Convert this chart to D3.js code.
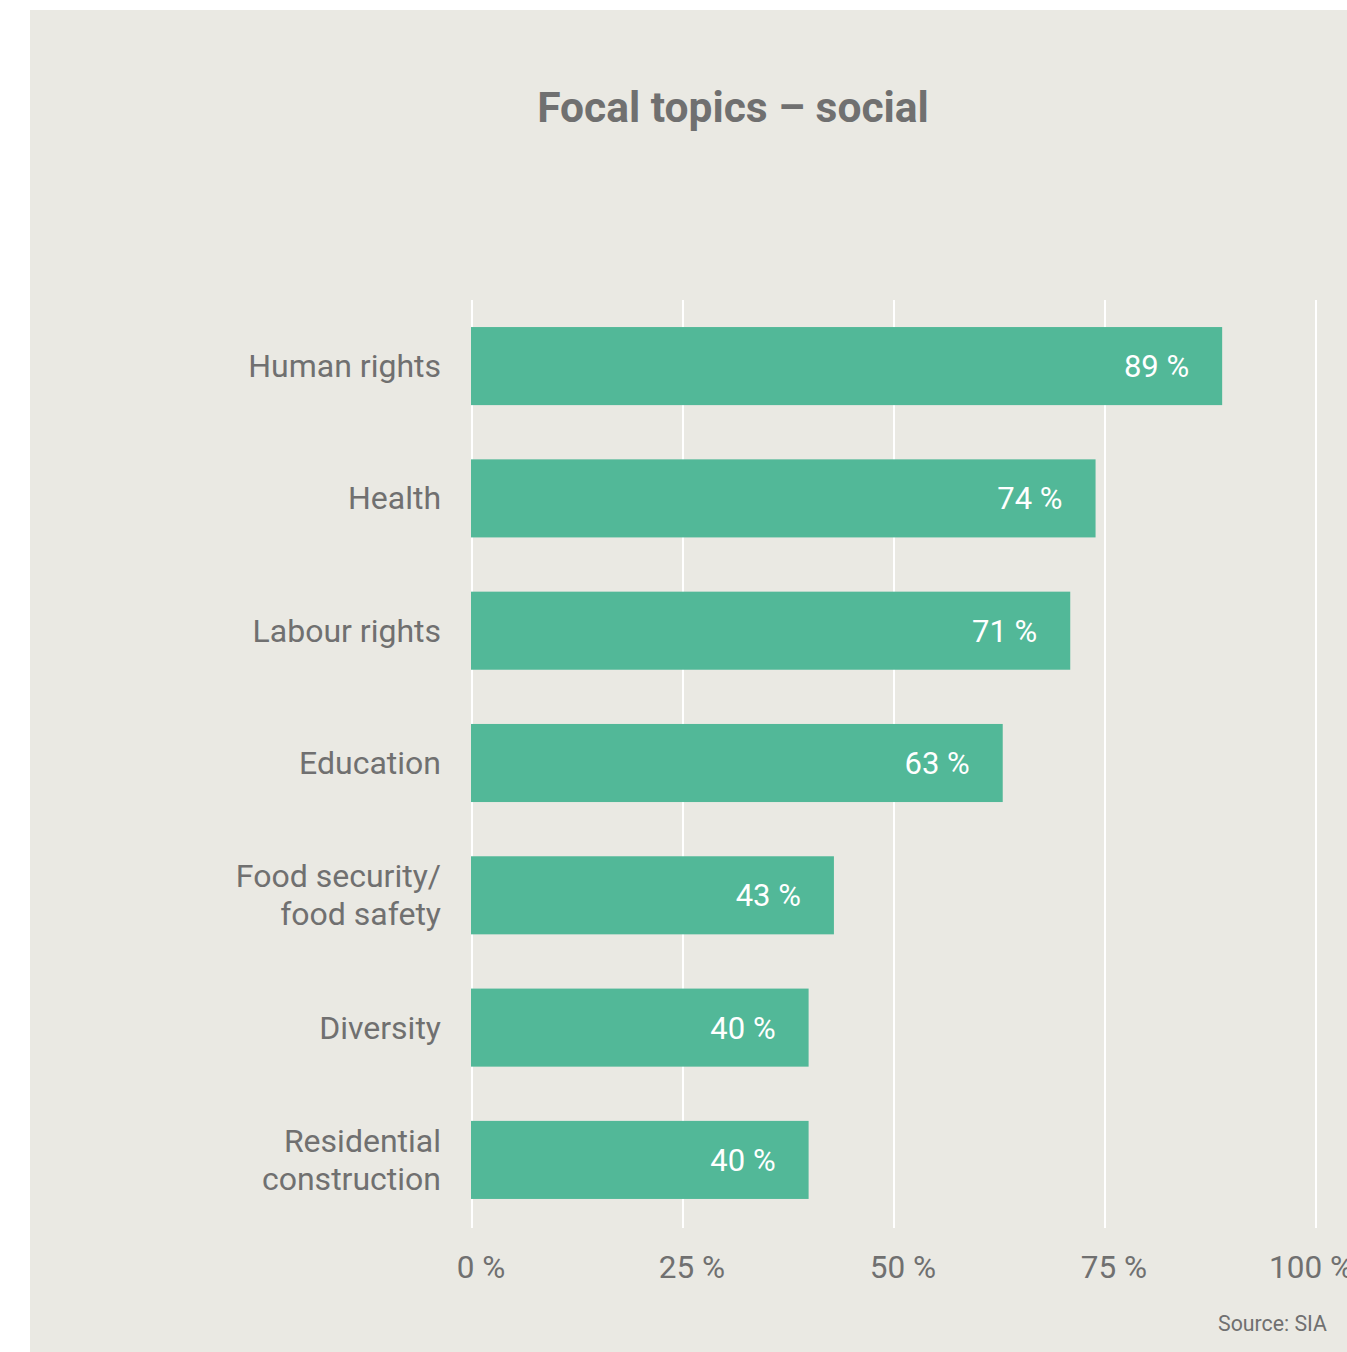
<!DOCTYPE html>
<html>
<head>
<meta charset="utf-8">
<script src="https://cdn.jsdelivr.net/npm/d3@7"></script>
<style>
  body { margin: 0; background: #fff; }
  svg text { font-family: Roboto, sans-serif; }
</style>
</head>
<body>
<div id="chart"></div>
<script>
let categories = ["Human rights", "Health", "Labour rights", "Education", "Food security/\nfood safety", "Diversity", "Residential\nconstruction"];
let values = [89, 74, 71, 63, 43, 40, 40];
let ticks = [0, 25, 50, 75, 100];

let W = 1347, H = 1352;
let svg = d3.select("#chart").append("svg").attr("width", W).attr("height", H);

// panel
svg.append("rect").attr("x", 30).attr("y", 10).attr("width", W - 30).attr("height", H - 10).attr("fill", "#eae9e3");

svg.append("text")
  .attr("x", 733).attr("y", 122)
  .attr("text-anchor", "middle")
  .attr("font-size", 42.5).attr("font-weight", "bold")
  .attr("fill", "#707070")
  .text("Focal topics – social");

let x = d3.scaleLinear().domain([0, 100]).range([472, 1316]);
let y = d3.scaleBand().domain(categories).range([299, 1227]).paddingInner(0.41).paddingOuter(0.212);

// gridlines
svg.selectAll("line.grid")
  .data(ticks)
  .enter().append("line")
    .attr("class", "grid")
    .attr("x1", d => x(d)).attr("x2", d => x(d))
    .attr("y1", 300).attr("y2", 1228)
    .attr("stroke", "#ffffff").attr("stroke-width", 2);

// tick labels (last one pulled in a bit, it runs off the edge)
svg.selectAll("text.tick")
  .data(ticks)
  .enter().append("text")
    .attr("class", "tick")
    .attr("x", (d, i) => x(d) + (i === ticks.length - 1 ? -5 : 9)).attr("y", 1278)
    .attr("text-anchor", "middle")
    .attr("font-size", 31.5)
    .attr("fill", "#707070")
    .text(d => d + " %");

// bars
svg.selectAll("rect.bar")
  .data(values)
  .enter().append("rect")
    .attr("class", "bar")
    .attr("x", x(0) - 1)
    .attr("y", (d, i) => y(categories[i]))
    .attr("width", d => x(d) - x(0))
    .attr("height", y.bandwidth())
    .attr("fill", "#52b898");

// value labels
svg.selectAll("text.val")
  .data(values)
  .enter().append("text")
    .attr("class", "val")
    .attr("x", d => x(d) - 34)
    .attr("y", (d, i) => y(categories[i]) + y.bandwidth() / 2 + 11)
    .attr("text-anchor", "end")
    .attr("font-size", 31)
    .attr("fill", "#ffffff")
    .text(d => d + " %");

// category labels
let lab = svg.selectAll("text.cat")
  .data(categories)
  .enter().append("text")
    .attr("class", "cat")
    .attr("text-anchor", "end")
    .attr("font-size", 32)
    .attr("fill", "#707070");

lab.each(function(d) {
  let lines = d.split("\n");
  let cy = y(d) + y.bandwidth() / 2;
  let t = d3.select(this);
  lines.forEach((s, j) => {
    t.append("tspan")
      .attr("x", 441)
      .attr("y", cy + 11 + (j - (lines.length - 1) / 2) * 38)
      .text(s);
  });
});

svg.append("text")
  .attr("x", 1327).attr("y", 1331)
  .attr("text-anchor", "end")
  .attr("font-size", 21.3)
  .attr("fill", "#707070")
  .text("Source: SIA");
</script>
</body>
</html>
